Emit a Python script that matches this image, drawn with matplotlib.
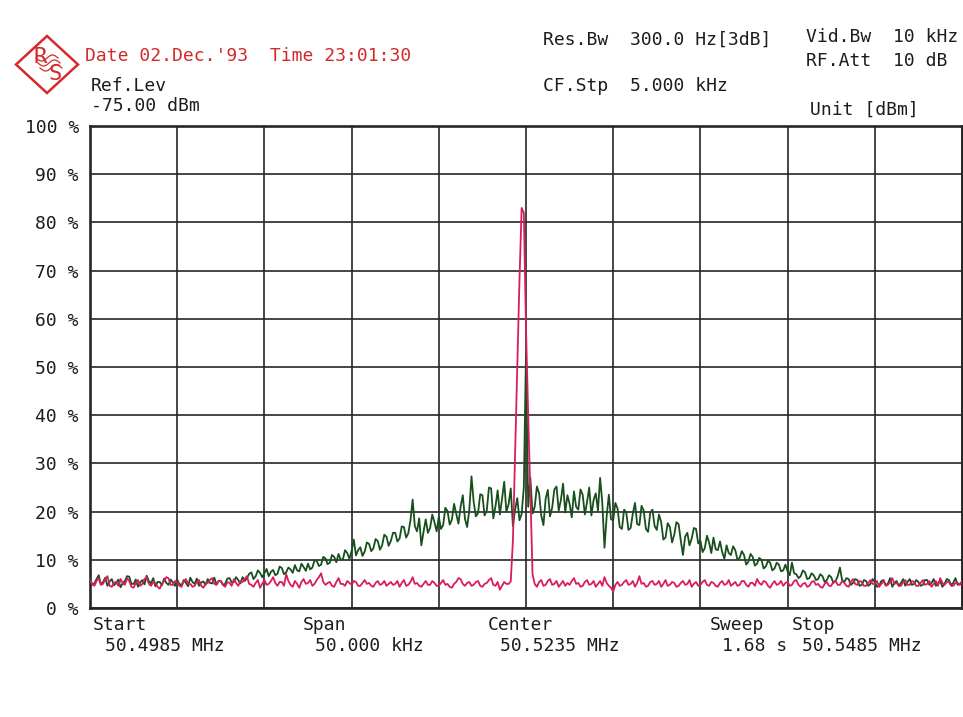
import numpy as np
import matplotlib
matplotlib.use("Agg")
import matplotlib.pyplot as plt
from matplotlib.patches import Polygon

# Barrido del analizador: 50.4985 MHz .. 50.5485 MHz, nivel en % de la pantalla
f_start = 50.4985
f_stop = 50.5485

# Traza verde (señal ensanchada), 401 puntos
green = [
    6.2, 4.8, 5.1, 6.0, 6.8, 4.9, 5.4, 6.3, 4.6, 5.5, 6.0, 4.7, 5.2, 5.9, 4.3, 5.1, 5.6, 6.6, 6.5, 5.0,
    5.0, 5.9, 4.4, 5.3, 5.8, 4.9, 6.7, 5.6, 5.1, 6.2, 4.5, 5.4, 5.4, 4.7, 6.1, 5.2, 4.8, 5.9, 5.3, 4.6,
    5.9, 5.0, 4.7, 5.8, 5.2, 4.5, 6.3, 5.4, 5.0, 6.1, 4.6, 5.3, 5.5, 4.8, 6.0, 5.2, 5.1, 6.3, 4.9, 5.6,
    5.6, 4.8, 5.0, 6.1, 6.2, 5.3, 5.4, 6.4, 5.8, 5.1, 6.4, 5.6, 6.2, 7.1, 7.4, 6.0, 6.6, 7.8, 7.3, 6.4,
    7.2, 8.1, 6.6, 7.5, 7.9, 6.8, 7.1, 8.6, 8.3, 7.0, 7.4, 8.4, 8.0, 7.3, 8.9, 7.8, 7.6, 9.2, 8.5, 7.7,
    9.2, 8.0, 8.4, 9.9, 9.8, 8.7, 9.0, 10.6, 10.3, 9.1, 9.4, 11.0, 10.6, 9.5, 11.2, 10.0, 10.1, 12.0, 11.4, 10.2,
    11.8, 14.2, 10.9, 12.0, 12.6, 10.8, 11.7, 13.6, 13.3, 11.8, 12.4, 14.3, 13.9, 12.1, 13.0, 15.2, 14.8, 12.9, 13.9, 15.6,
    15.6, 13.8, 14.4, 16.9, 16.8, 14.6, 15.5, 18.2, 22.5, 17.0, 15.9, 18.6, 13.0, 15.8, 18.4, 15.6, 16.6, 19.4, 17.8, 15.9,
    18.9, 16.4, 17.2, 20.8, 20.1, 17.3, 18.3, 21.6, 19.6, 17.5, 21.0, 23.4, 18.5, 16.8, 20.4, 27.3, 22.0, 19.0, 19.7, 23.6,
    23.4, 19.2, 20.2, 25.0, 24.8, 18.6, 21.1, 24.4, 19.4, 22.6, 26.2, 20.0, 21.5, 24.8, 17.0, 20.4, 22.8, 18.2, 19.5, 25.0,
    53.0, 21.0, 27.0, 19.6, 21.0, 25.2, 23.8, 19.2, 17.2, 22.6, 24.5, 19.0, 20.8, 24.6, 25.2, 20.2, 22.4, 25.8, 19.8, 23.4,
    21.6, 18.8, 24.2, 21.0, 20.4, 24.6, 23.5, 19.4, 22.0, 25.0, 19.2, 22.4, 23.8, 20.2, 27.0, 21.8, 12.5, 19.0, 23.5, 18.4,
    18.2, 21.8, 20.6, 16.8, 16.4, 20.4, 19.8, 16.2, 16.6, 19.6, 21.8, 17.4, 17.2, 21.2, 20.2, 16.4, 15.8, 19.8, 20.4, 17.0,
    16.2, 19.4, 17.8, 14.2, 14.6, 17.6, 16.8, 13.6, 15.2, 17.8, 17.4, 14.0, 11.0, 14.8, 15.6, 13.0, 14.4, 16.6, 16.4, 13.4,
    14.0, 11.6, 12.4, 15.0, 13.6, 11.4, 14.6, 12.2, 12.0, 13.8, 11.6, 10.2, 13.0, 11.4, 11.0, 12.8, 12.0, 10.0, 10.4, 11.8,
    11.0, 9.0, 9.6, 11.2, 10.6, 8.8, 9.2, 10.4, 10.0, 8.2, 8.6, 9.8, 9.4, 7.8, 8.2, 9.4, 9.0, 7.6, 7.8, 9.0,
    7.6, 6.8, 9.4, 7.2, 7.0, 6.2, 6.6, 7.8, 7.4, 6.0, 6.2, 7.2, 6.8, 5.8, 6.0, 7.0, 6.6, 5.4, 5.8, 6.8,
    6.4, 5.2, 5.6, 6.6, 8.4, 5.8, 5.4, 6.2, 6.0, 4.8, 5.2, 6.0, 5.8, 4.6, 4.8, 5.8, 5.6, 4.6, 5.0, 6.0,
    5.4, 4.4, 4.6, 5.6, 5.8, 4.8, 5.0, 6.2, 4.4, 5.2, 5.6, 4.6, 5.2, 6.0, 4.6, 5.4, 6.0, 4.8, 5.0, 5.8,
    5.4, 4.6, 4.8, 5.8, 5.8, 4.8, 5.2, 6.0, 4.6, 5.2, 5.6, 4.4, 5.0, 6.0, 5.8, 4.8, 5.2, 6.2, 4.8, 5.0, 5.4,
]

# Traza roja (portadora sin modular), 401 puntos
red = [
    5.8, 5.0, 4.6, 5.6, 6.2, 4.8, 5.0, 6.0, 6.6, 4.6, 4.4, 5.2, 5.4, 4.6, 6.0, 5.2, 4.8, 6.2, 5.6, 4.4,
    4.2, 5.2, 5.8, 4.6, 5.0, 6.0, 6.4, 5.0, 4.6, 5.4, 5.2, 4.4, 4.0, 5.0, 5.6, 6.4, 6.2, 4.8, 4.8, 5.6,
    5.4, 4.6, 4.4, 5.6, 6.0, 5.0, 5.0, 4.4, 4.6, 5.4, 5.8, 4.6, 4.2, 5.0, 5.2, 5.8, 6.2, 5.0, 4.8, 5.6,
    5.6, 4.8, 4.4, 5.4, 5.2, 4.6, 6.0, 5.2, 4.6, 5.6, 5.4, 6.0, 6.6, 5.0, 4.8, 4.4, 5.2, 5.8, 4.2, 5.0,
    5.8, 4.8, 5.0, 5.6, 6.4, 5.2, 4.6, 5.4, 5.4, 4.6, 7.0, 5.6, 4.8, 4.4, 5.6, 5.0, 4.2, 5.4, 6.0, 5.0,
    5.2, 5.8, 4.6, 5.0, 5.8, 6.4, 7.2, 5.4, 4.8, 5.2, 5.4, 4.6, 4.4, 5.4, 6.2, 5.0, 5.0, 4.6, 5.6, 5.2,
    4.8, 5.6, 5.4, 4.6, 4.6, 5.2, 5.8, 5.0, 5.2, 4.6, 4.4, 5.2, 5.6, 4.8, 5.0, 5.6, 4.6, 5.0, 5.4, 4.8,
    5.0, 5.6, 4.4, 5.2, 5.8, 4.6, 4.8, 5.4, 6.4, 5.0, 5.2, 4.6, 4.4, 5.0, 5.6, 4.8, 4.8, 5.6, 5.2, 4.6,
    4.6, 5.2, 5.8, 4.8, 5.0, 4.4, 4.2, 5.0, 5.4, 6.2, 6.0, 5.0, 4.6, 5.2, 5.4, 4.6, 4.8, 5.4, 5.6, 4.6,
    4.4, 5.0, 5.2, 5.8, 6.2, 4.8, 4.6, 5.4, 3.8, 4.6, 5.4, 5.0, 5.0,
    5.5, 14.0, 32.0, 50.0, 68.0, 83.0, 82.0, 58.0, 40.0, 24.0, 7.0, 5.0,
    4.4, 5.4, 5.8, 4.6, 4.8, 5.6, 6.0, 4.8, 5.0, 5.6, 4.4, 5.0, 5.6, 4.6, 5.2,
    4.8, 5.6, 6.2, 5.0, 5.2, 4.4, 4.6, 5.4, 5.8, 4.8, 5.0, 5.6, 4.4, 5.0, 5.6, 4.6, 6.4, 5.2, 4.6, 4.2,
    3.4, 4.8, 5.4, 4.6, 4.8, 5.4, 5.8, 4.8, 5.0, 5.6, 4.4, 5.2, 6.6, 5.0, 5.2, 4.4, 4.6, 5.4, 5.6, 4.8,
    5.0, 5.6, 4.4, 5.0, 5.8, 4.6, 4.8, 5.4, 5.2, 4.4, 4.6, 5.2, 5.6, 4.8, 5.0, 5.8, 4.4, 5.0, 5.4, 4.6,
    4.8, 5.4, 5.8, 4.8, 4.6, 5.4, 5.2, 4.6, 4.4, 5.2, 5.6, 4.8, 5.0, 5.8, 4.6, 5.0, 5.4, 4.6, 4.8, 5.6,
    5.6, 4.8, 4.4, 5.2, 5.2, 4.6, 6.0, 5.2, 4.8, 5.6, 5.4, 4.6, 4.2, 5.0, 5.6, 4.8, 5.0, 5.6, 4.6, 5.2,
    5.4, 4.6, 4.8, 5.6, 5.8, 4.8, 4.4, 5.0, 5.2, 4.4, 4.6, 5.4, 5.6, 4.8, 5.0, 4.4, 4.2, 5.0, 5.4, 4.6,
    4.6, 5.4, 5.6, 4.8, 4.8, 5.6, 5.2, 4.6, 4.4, 5.4, 6.0, 5.0, 4.8, 5.6, 5.4, 4.6, 4.6, 5.2, 5.8, 5.0,
    5.0, 5.6, 4.4, 5.0, 5.6, 4.6, 4.8, 5.4, 6.2, 5.0, 5.2, 4.6, 4.6, 5.4, 5.8, 4.8, 4.8, 5.6, 5.4, 4.6,
    4.6, 5.2, 5.8, 4.8, 5.0, 5.6, 4.4, 5.0, 5.6, 4.6, 6.2, 5.2, 4.8, 5.4, 5.4, 4.6, 4.6, 5.2, 5.2, 4.8, 5.6,
]

y_ticks = list(range(0, 101, 10))
y_labels = [f"{v} %" for v in y_ticks]

W, H = 963, 717
MONO = "DejaVu Sans Mono"
FS = 13
INK = "#1c1c1c"
RS_RED = "#d42a2a"
GREEN = "#17501c"
MAGENTA = "#d81d5c"

fig = plt.figure(figsize=(W / 100, H / 100), dpi=100)
fig.patch.set_facecolor("white")

# Área de la pantalla del analizador (coordenadas en píxeles)
left, right, top, bottom = 90, 962, 126, 608
ax = fig.add_axes([left / W, 1 - bottom / H, (right - left) / W, (bottom - top) / H])

x_green = np.linspace(f_start, f_stop, len(green))
x_red = np.linspace(f_start, f_stop, len(red))
ax.plot(x_green, green, color=GREEN, lw=1.3, zorder=3)
ax.plot(x_red, red, color=MAGENTA, lw=1.3, zorder=4)

ax.set_xlim(f_start, f_stop)
ax.set_ylim(0, 100)
ax.set_xticks(np.linspace(f_start, f_stop, 11))
ax.set_xticklabels([])
ax.set_yticks(y_ticks)
ax.set_yticklabels(y_labels, family=MONO, fontsize=FS, color=INK)
ax.tick_params(length=0, pad=8)
ax.grid(True, color="#262626", lw=1.2, zorder=1)
for s in ax.spines.values():
    s.set_linewidth(1.9)
    s.set_color("#262626")


def put(x, y, s, color=INK, size=FS):
    fig.text(x / W, 1 - y / H, s, family=MONO, fontsize=size, color=color,
             ha="left", va="center")


# Logotipo R&S
dx, dy = 47, 64.5
pts = [(dx - 31, dy), (dx, dy - 28.5), (dx + 31, dy), (dx, dy + 28.5)]
fig.patches.append(Polygon([(px / W, 1 - py / H) for px, py in pts], closed=True,
                           fill=False, ec=RS_RED, lw=1.8,
                           transform=fig.transFigure, figure=fig))
fig.text(40 / W, 1 - 57 / H, "R", family=MONO, fontsize=16, color=RS_RED,
         ha="center", va="center")
fig.text(55 / W, 1 - 74 / H, "S", family=MONO, fontsize=16, color=RS_RED,
         ha="center", va="center")
t = np.linspace(0, 1, 30)
for k in range(3):
    wx = 36 + 22 * t + k * 2
    wy = 58 + k * 5 + 3 * np.sin(2 * np.pi * t)
    fig.lines.append(plt.Line2D(wx / W, 1 - wy / H, color=RS_RED, lw=0.9,
                                transform=fig.transFigure, figure=fig))

# Cabecera
put(85, 56, "Date 02.Dec.'93  Time 23:01:30", color=RS_RED)
put(91, 86, "Ref.Lev")
put(91, 106, "-75.00 dBm")
put(543, 40, "Res.Bw  300.0 Hz[3dB]")
put(543, 86, "CF.Stp  5.000 kHz")
put(806, 37, "Vid.Bw  10 kHz")
put(806, 61, "RF.Att  10 dB")
put(810, 110, "Unit [dBm]")

# Pie
put(93, 625, "Start")
put(105, 646, "50.4985 MHz")
put(303, 625, "Span")
put(315, 646, "50.000 kHz")
put(488, 625, "Center")
put(500, 646, "50.5235 MHz")
put(710, 625, "Sweep")
put(722, 646, "1.68 s")
put(792, 625, "Stop")
put(802, 646, "50.5485 MHz")

fig.savefig("out.png", dpi=100)
